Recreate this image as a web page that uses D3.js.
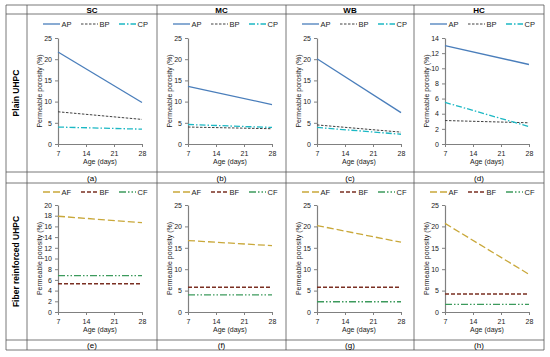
<!DOCTYPE html>
<html lang="en">
<head>
    <meta charset="UTF-8">
    <script src="https://cdnjs.cloudflare.com/ajax/libs/d3/7.8.5/d3.min.js"></script>
    <title>Permeable porosity</title>
    <style>
        body { margin: 0; background: #fff; }
        text { font-family: "Liberation Sans", Arial, sans-serif; }
    </style>
</head>
<body>
    <script>
        var width = 550;
        var height = 357;

        // data
        var days = [7, 28];
        var mixes = ['SC', 'MC', 'WB', 'HC'];
        var panelLabels = ['(a)', '(b)', '(c)', '(d)', '(e)', '(f)', '(g)', '(h)'];
        var rowNames = ['Plain UHPC', 'Fiber reinforced UHPC'];
        var plainNames = ['AP', 'BP', 'CP'];
        var fiberNames = ['AF', 'BF', 'CF'];

        var AP = [[21.7, 9.8], [13.6, 9.3], [20.1, 7.4], [13.0, 10.5]];
        var BP = [[7.6, 5.8], [4.0, 3.6], [4.5, 2.8], [3.1, 2.8]];
        var CP = [[4.0, 3.5], [4.6, 3.9], [3.9, 2.3], [5.5, 2.3]];
        var AF = [[17.9, 16.7], [16.7, 15.5], [20.2, 16.3], [20.7, 8.8]];
        var BF = [[5.3, 5.3], [5.8, 5.8], [5.8, 5.8], [4.2, 4.2]];
        var CF = [[6.8, 6.8], [4.0, 4.0], [2.4, 2.4], [1.8, 1.8]];

        var yMax = [[25, 25, 25, 14], [20, 25, 25, 25]];
        var yStep = [[5, 5, 5, 2], [2, 5, 5, 5]];

        var styles = {
            AP: { color: '#4a7ebb', dash: null, w: 1.3 },
            BP: { color: '#404040', dash: '2.5,1.5', w: 1 },
            CP: { color: '#1cb8c4', dash: '6,2,1.5,2', w: 1.3 },
            AF: { color: '#c9a83a', dash: '7,3', w: 1.3 },
            BF: { color: '#7a2f22', dash: '4,2', w: 1.5 },
            CF: { color: '#3c9a5c', dash: '7,2,1.5,2,1.5,2', w: 1.3 }
        };

        // table grid
        var colX = [27, 157, 286, 414, 544];
        var rowY = [5, 14, 172, 183, 340, 350];
        var left = 6;

        var svg = d3.select('body')
                    .append('svg')
                    .attr('width', width)
                    .attr('height', height);

        var grid = svg.append('g').attr('stroke', '#555').attr('stroke-width', 0.8);
        rowY.forEach(function(y) {
            grid.append('line').attr('x1', left).attr('x2', colX[4]).attr('y1', y).attr('y2', y);
        });
        [left].concat(colX).forEach(function(x) {
            grid.append('line').attr('x1', x).attr('x2', x).attr('y1', rowY[0]).attr('y2', rowY[5]);
        });

        // column headers
        svg.selectAll('.head')
            .data(mixes)
            .enter()
                .append('text')
                .attr('x', function(d, i) { return (colX[i] + colX[i + 1]) / 2; })
                .attr('y', 12.5)
                .attr('text-anchor', 'middle')
                .attr('font-size', 8)
                .attr('font-weight', 'bold')
                .text(function(d) { return d; });

        // row names
        svg.selectAll('.rowname')
            .data(rowNames)
            .enter()
                .append('text')
                .attr('transform', function(d, i) {
                    var cy = (rowY[1 + i * 2] + rowY[2 + i * 2]) / 2;
                    return 'translate(19,' + cy + ') rotate(-90)';
                })
                .attr('text-anchor', 'middle')
                .attr('font-size', 8.5)
                .attr('font-weight', 'bold')
                .text(function(d) { return d; });

        // panel labels (a)..(h)
        svg.selectAll('.plabel')
            .data(panelLabels)
            .enter()
                .append('text')
                .attr('x', function(d, i) { var c = i % 4; return (colX[c] + colX[c + 1]) / 2; })
                .attr('y', function(d, i) { return i < 4 ? 180.5 : 348; })
                .attr('text-anchor', 'middle')
                .attr('font-size', 8)
                .text(function(d) { return d; });

        function drawPanel(row, col) {
            var x0 = colX[col] + 31;
            var yTop = row == 0 ? 38 : 205;
            var yBot = row == 0 ? 144 : 312;
            var names = row == 0 ? plainNames : fiberNames;
            var series = row == 0 ? [AP, BP, CP] : [AF, BF, CF];

            var x = d3.scaleLinear().domain([7, 28]).range([x0, x0 + 84]);
            var y = d3.scaleLinear().domain([0, yMax[row][col]]).range([yBot, yTop]);

            var g = svg.append('g');

            var xAxis = d3.axisBottom(x).tickValues([7, 14, 21, 28]).tickSize(3).tickSizeOuter(0);
            var yAxis = d3.axisLeft(y).tickValues(d3.range(0, yMax[row][col] + 0.1, yStep[row][col])).tickSize(3).tickSizeOuter(0);

            var gx = g.append('g').attr('transform', 'translate(0,' + yBot + ')').call(xAxis);
            var gy = g.append('g').attr('transform', 'translate(' + x0 + ',0)').call(yAxis);
            [gx, gy].forEach(function(a) {
                a.select('.domain').attr('stroke', '#808080').attr('stroke-width', 1.2);
                a.selectAll('.tick line').attr('stroke', '#808080');
                a.selectAll('.tick text').attr('font-size', 7).attr('fill', '#222')
                    .attr('font-family', '"Liberation Sans", Arial, sans-serif');
            });
            gx.selectAll('.tick text').attr('dy', '0.9em');

            g.append('text')
                .attr('x', x0 + 42)
                .attr('y', yBot + 20)
                .attr('text-anchor', 'middle')
                .attr('font-size', 7)
                .attr('fill', '#222')
                .text('Age (days)');

            g.append('text')
                .attr('transform', 'translate(' + (colX[col] + 15) + ',' + ((yTop + yBot) / 2) + ') rotate(-90)')
                .attr('text-anchor', 'middle')
                .attr('font-size', 7)
                .attr('fill', '#222')
                .text('Permeable porosity (%)');

            var line = d3.line()
                        .x(function(d, i) { return x(days[i]); })
                        .y(function(d) { return y(d); });

            names.forEach(function(n, k) {
                var s = styles[n];
                g.append('path')
                    .attr('d', line(series[k][col]))
                    .attr('fill', 'none')
                    .attr('stroke', s.color)
                    .attr('stroke-width', s.w)
                    .attr('stroke-dasharray', s.dash);

                // legend
                var lx = colX[col] + 16 + k * 38;
                var ly = row == 0 ? 24 : 192;
                g.append('line')
                    .attr('x1', lx).attr('x2', lx + 17)
                    .attr('y1', ly).attr('y2', ly)
                    .attr('stroke', s.color)
                    .attr('stroke-width', s.w)
                    .attr('stroke-dasharray', s.dash);
                g.append('text')
                    .attr('x', lx + 18.5)
                    .attr('y', ly + 2.6)
                    .attr('font-size', 7.5)
                    .attr('fill', '#222')
                    .text(n);
            });
        }

        for (var r = 0; r < 2; r++) {
            for (var c = 0; c < 4; c++) drawPanel(r, c);
        }
    </script>
</body>
</html>
